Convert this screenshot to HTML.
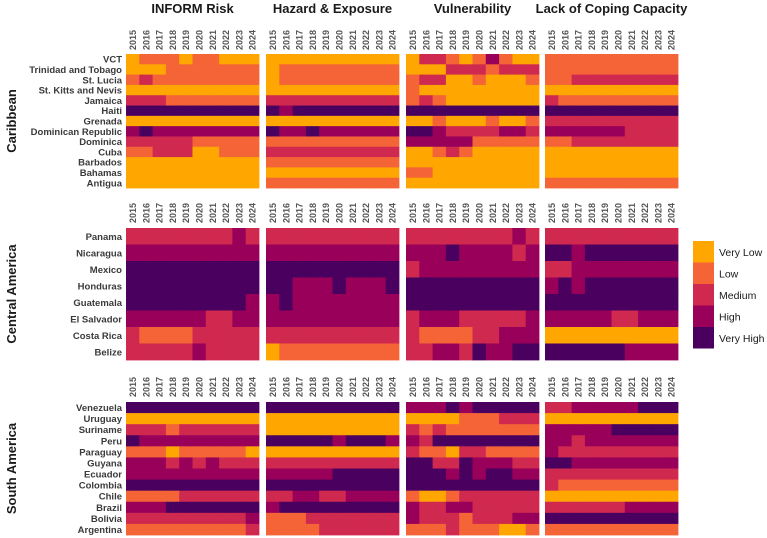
<!DOCTYPE html>
<html><head><meta charset="utf-8">
<style>
html,body{margin:0;padding:0;background:#fff;}
svg{display:block;font-family:"Liberation Sans",Arial,sans-serif;}
</style></head>
<body>
<svg id="chart" width="767" height="538" viewBox="0 0 767 538"></svg>
<script>
const years = ["2015","2016","2017","2018","2019","2020","2021","2022","2023","2024"];
const panelTitles = ["INFORM Risk","Hazard & Exposure","Vulnerability","Lack of Coping Capacity"];
const levelLabels = ["Very Low","Low","Medium","High","Very High"];
const levelColors = ["#FFA600","#F46437","#D0294F","#990059","#49005F"];

const regionNames = ["Caribbean","Central America","South America"];
const caribCountries = ["VCT","Trinidad and Tobago","St. Lucia","St. Kitts and Nevis","Jamaica","Haiti","Grenada","Dominican Republic","Dominica","Cuba","Barbados","Bahamas","Antigua"];
const centralCountries = ["Panama","Nicaragua","Mexico","Honduras","Guatemala","El Salvador","Costa Rica","Belize"];
const southCountries = ["Venezuela","Uruguay","Suriname","Peru","Paraguay","Guyana","Ecuador","Colombia","Chile","Brazil","Bolivia","Argentina"];

const caribRisk = [[1,2,2,2,1,2,2,1,1,1],[1,1,1,2,2,2,2,2,2,2],[2,3,2,2,2,2,2,2,2,2],[1,1,1,1,1,1,1,1,1,1],[3,3,3,2,2,2,2,2,2,2],[5,5,5,5,5,5,5,5,5,5],[1,1,1,1,1,1,1,1,1,1],[4,5,4,4,4,4,4,4,4,4],[3,3,3,3,3,2,2,2,2,2],[2,2,3,3,3,1,1,2,2,2],[1,1,1,1,1,1,1,1,1,1],[1,1,1,1,1,1,1,1,1,1],[1,1,1,1,1,1,1,1,1,1]];
const caribHazard = [[1,1,1,1,1,1,1,1,1,1],[1,2,2,2,2,2,2,2,2,2],[1,2,2,2,2,2,2,2,2,2],[1,1,1,1,1,1,1,1,1,1],[3,3,3,3,3,3,3,3,3,3],[5,4,5,5,5,5,5,5,5,5],[1,1,1,1,1,1,1,1,1,1],[5,4,4,5,4,4,4,4,4,4],[2,2,2,2,2,2,2,2,2,2],[3,3,3,3,3,3,3,3,3,3],[2,2,2,2,2,2,2,2,2,2],[1,1,1,1,1,1,1,1,1,1],[2,2,2,2,2,2,2,2,2,2]];
const caribVuln = [[1,3,3,2,1,2,4,2,1,1],[1,1,1,3,3,3,2,3,3,3],[2,3,3,1,1,2,1,1,1,2],[2,1,1,1,1,1,1,1,1,1],[2,3,2,1,1,1,1,1,1,1],[5,5,5,5,5,5,5,5,5,5],[1,1,2,1,1,1,2,1,1,2],[5,5,4,3,3,3,3,4,4,3],[4,4,4,4,4,2,2,2,2,2],[1,1,2,3,2,1,1,1,1,1],[1,1,1,1,1,1,1,1,1,1],[2,2,1,1,1,1,1,1,1,1],[1,1,1,1,1,1,1,1,1,1]];
const caribCoping = [[2,2,2,2,2,2,2,2,2,2],[2,2,2,2,2,2,2,2,2,2],[2,2,3,3,3,3,3,3,3,3],[1,1,1,1,1,1,1,1,1,1],[3,2,2,2,2,2,2,2,2,2],[5,5,5,5,5,5,5,5,5,5],[3,3,3,3,3,3,3,3,3,3],[4,4,4,4,4,4,3,3,3,3],[2,2,3,3,3,3,3,3,3,3],[1,1,1,1,1,1,1,1,1,1],[1,1,1,1,1,1,1,1,1,1],[1,1,1,1,1,1,1,1,1,1],[2,2,2,2,2,2,2,2,2,2]];

const centralRisk = [[3,3,3,3,3,3,3,3,4,3],[4,4,4,4,4,4,4,4,4,4],[5,5,5,5,5,5,5,5,5,5],[5,5,5,5,5,5,5,5,5,5],[5,5,5,5,5,5,5,5,5,4],[4,4,4,4,4,4,3,3,4,4],[3,2,2,2,2,3,3,3,3,3],[3,3,3,3,3,4,3,3,3,3]];
const centralHazard = [[3,3,3,3,3,3,3,3,3,3],[4,4,4,4,4,4,4,4,4,4],[5,5,5,5,5,5,5,5,5,5],[5,5,4,4,4,5,4,4,4,5],[4,5,4,4,4,4,4,4,4,4],[4,4,4,4,4,4,4,4,4,4],[3,3,3,3,3,3,3,3,3,3],[1,2,2,2,2,2,2,2,2,2]];
const centralVuln = [[3,3,3,3,3,3,3,3,4,3],[4,4,4,5,4,4,4,4,3,4],[3,4,4,4,4,4,4,4,4,4],[5,5,5,5,5,5,5,5,5,5],[5,5,5,5,5,5,5,5,5,5],[3,4,4,4,3,3,3,3,3,4],[3,2,2,2,2,3,3,4,4,4],[3,3,4,4,3,5,4,4,5,5]];
const centralCoping = [[3,3,3,3,3,3,3,3,3,3],[5,5,4,5,5,5,5,5,5,5],[3,3,4,4,4,4,4,4,4,4],[4,5,4,5,5,5,5,5,5,5],[5,5,5,5,5,5,5,5,5,5],[4,4,4,4,4,3,3,4,4,4],[1,1,1,1,1,1,1,1,1,1],[5,5,5,5,5,5,4,4,4,4]];

const southRisk = [[5,5,5,5,5,5,5,5,5,5],[1,1,1,1,1,1,1,1,1,1],[3,3,3,2,3,3,3,3,3,3],[5,4,4,4,4,4,4,4,4,4],[2,2,2,1,2,2,2,2,2,1],[4,4,4,3,4,3,4,3,3,3],[4,4,4,4,4,4,4,4,4,4],[5,5,5,5,5,5,5,5,5,5],[2,2,2,2,3,3,3,3,3,3],[4,4,4,5,5,5,5,5,5,5],[3,3,3,3,3,3,3,3,3,4],[2,2,2,2,2,2,2,2,2,3]];
const southHazard = [[5,5,5,5,5,5,5,5,5,5],[1,1,1,1,1,1,1,1,1,1],[1,1,1,1,1,1,1,1,1,1],[5,5,5,5,5,4,5,5,5,4],[1,1,1,1,1,1,1,1,1,1],[3,3,3,3,3,3,3,3,3,3],[4,4,4,4,4,5,5,5,5,5],[5,5,5,5,5,5,5,5,5,5],[3,3,4,4,3,3,4,4,4,4],[4,5,5,5,5,5,5,5,5,5],[2,2,2,3,3,3,3,3,3,3],[2,2,2,2,3,3,3,3,3,3]];
const southVuln = [[4,4,4,5,4,5,5,5,5,5],[1,1,1,1,2,2,2,3,3,3],[3,2,3,2,2,2,2,2,2,2],[4,3,5,5,5,5,5,5,5,5],[3,2,2,1,3,3,2,2,2,2],[5,5,3,3,5,4,4,4,3,3],[5,5,5,4,5,4,5,5,4,4],[5,5,5,5,5,5,5,5,5,5],[2,1,1,2,3,3,3,3,3,3],[4,3,3,4,4,3,3,3,3,3],[4,3,3,3,2,3,3,3,4,4],[2,2,2,3,2,2,2,1,1,2]];
const southCoping = [[3,3,4,4,4,4,4,5,5,5],[1,1,1,1,1,1,1,1,1,1],[4,4,4,4,4,5,5,5,5,5],[4,4,3,4,4,4,4,4,4,4],[4,3,3,3,3,3,3,3,3,3],[5,5,4,4,4,4,4,4,4,4],[3,3,3,3,3,3,3,3,3,3],[3,2,2,2,2,2,2,2,2,2],[1,1,1,1,1,1,1,1,1,1],[3,3,3,3,3,3,4,4,4,4],[5,5,5,5,5,5,5,5,5,5],[2,2,2,2,2,2,2,2,2,2]];

const NS = "http://www.w3.org/2000/svg";
const svg = document.getElementById("chart");
function mk(tag, attrs, parent){
  const e = document.createElementNS(NS, tag);
  for (const k in attrs) e.setAttribute(k, attrs[k]);
  (parent||svg).appendChild(e);
  return e;
}
const panelX = [126,266,406,545];
const panelW = 133;
const blocks = [
  {y0:54, h:134, countries:caribCountries, data:[caribRisk,caribHazard,caribVuln,caribCoping], yearBottom:50},
  {y0:228, h:132, countries:centralCountries, data:[centralRisk,centralHazard,centralVuln,centralCoping], yearBottom:223},
  {y0:402, h:133, countries:southCountries, data:[southRisk,southHazard,southVuln,southCoping], yearBottom:397}
];
function xScale(p, i){ return panelX[p] + i*panelW/years.length; }
function yScale(b, r){ return b.y0 + r*b.h/b.countries.length; }

panelTitles.forEach((t,p)=>{
  const e = mk("text",{x:panelX[p]+panelW/2, y:13, "text-anchor":"middle", "font-size":"13", "font-weight":"bold", fill:"#1a1a1a"});
  e.textContent = t;
  
  
});

blocks.forEach((b,bi)=>{
  const g = mk("g",{});
  
  
  const cy = b.y0 + b.h/2;
  const rl = mk("text",{x:0,y:0,transform:`translate(16,${cy}) rotate(-90)`, "text-anchor":"middle", "font-size":"13", "font-weight":"bold", fill:"#1a1a1a"}, g);
  rl.textContent = regionNames[bi];
  
  
  const rh = b.h/b.countries.length;
  b.countries.forEach((c,r)=>{
    const t = mk("text",{x:122, y:yScale(b,r)+rh/2+3.5, "text-anchor":"end", "font-size":"9.5", "font-weight":"bold", fill:"#3a3a3a"}, g);
    t.textContent = c;
    
    
  });
  b.data.forEach((mat,p)=>{
    const cw = panelW/years.length;
    years.forEach((yv,i)=>{
      const tx = xScale(p,i)+cw/2+3.3;
      const t = mk("text",{x:0,y:0,transform:`translate(${tx},${b.yearBottom}) rotate(-90)`, "font-size":"9", "font-weight":"bold", fill:"#555"}, g);
      t.textContent = yv;
      
      
    });
    mat.forEach((row,r)=>{
      row.forEach((v,i)=>{
        const cell = mk("rect",{x:xScale(p,i), y:yScale(b,r), width:cw+0.4, height:rh+0.4, fill:levelColors[v-1]}, g);
        
        
      });
    });
  });
});

const lg = mk("g",{});


levelLabels.forEach((l,i)=>{
  const y = 241 + i*21.5;
  const r = mk("rect",{x:693, y:y, width:21, height:21.5, fill:levelColors[i]}, lg);
  
  
  const t = mk("text",{x:719, y:y+15, "font-size":"10.5", fill:"#1a1a1a"}, lg);
  t.textContent = l;
  
  
});
</script>
</body></html>
